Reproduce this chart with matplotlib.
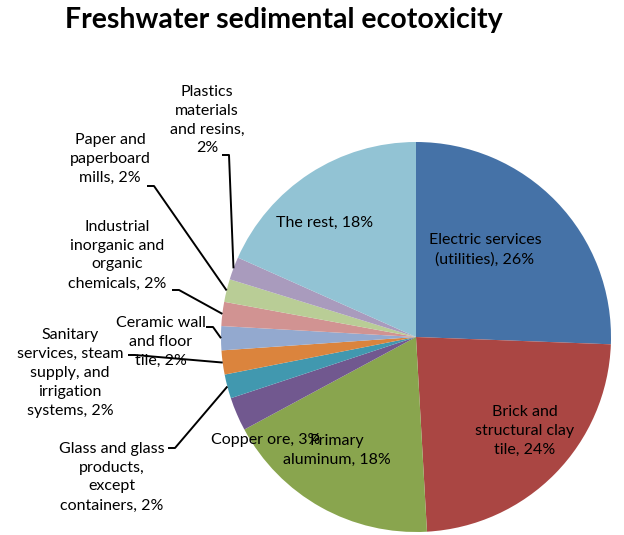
import numpy as np
import matplotlib
matplotlib.use("Agg")
import matplotlib.pyplot as plt

plt.rcParams['font.family'] = ['Lato', 'DejaVu Sans']

# slice data, clockwise from 12 o'clock
names = ["Electric services\n(utilities)", "Brick and\nstructural clay\ntile",
         "Primary\naluminum", "Copper ore",
         "Glass and glass\nproducts,\nexcept\ncontainers",
         "Sanitary\nservices, steam\nsupply, and\nirrigation\nsystems",
         "Ceramic wall\nand floor\ntile",
         "Industrial\ninorganic and\norganic\nchemicals",
         "Paper and\npaperboard\nmills",
         "Plastics\nmaterials\nand resins,",
         "The rest"]
shares = [25.7, 23.6, 18.1, 2.8, 2.0, 2.0, 2.0, 2.0, 1.9, 1.9, 18.4]
colors = ["#4572A7", "#AA4643", "#89A54E", "#71588F", "#4198AF", "#DB843D",
          "#93A9CF", "#D19392", "#B9CD96", "#A99BBD", "#92C3D4"]

W, H = 624, 535
fig = plt.figure(figsize=(W / 100, H / 100), dpi=100)
ax = fig.add_axes([0, 0, 1, 1])

cx, cy, R = 416, H - 337, 195
wedges, _ = ax.pie(shares, colors=colors, startangle=90, counterclock=False,
                   center=(cx, cy), radius=R, frame=True,
                   wedgeprops=dict(linewidth=0))
ax.set_xlim(0, W)
ax.set_ylim(0, H)
ax.set_aspect('equal')
ax.axis('off')


def label(i):
    pct = int(round(shares[i]))
    if names[i].endswith(","):
        return names[i] + "\n" + f"{pct}%"
    return names[i] + f", {pct}%"


fs = 11.5
ls = 1.45
# inside labels (pixel positions, y from top)
inside = {0: (485, 250), 1: (525, 431), 2: (337, 450), 3: (266, 440), 10: (325, 223)}
for i, (x, y) in inside.items():
    ax.text(x, H - y, label(i), ha='center', va='center', fontsize=fs,
            linespacing=ls, color='black')

# outside labels with leader lines: (text x, text y, elbow start x, elbow y)
outside = {
    4: (112, 477, 168, 448),
    5: (70, 373, 128, 355),
    6: (161, 342, 206, 327),
    7: (117, 255, 172, 290),
    8: (110, 159, 147, 186),
    9: (207, 120, 222, 155),
}
for i, (tx, ty, ex, ey) in outside.items():
    ax.text(tx, H - ty, label(i), ha='center', va='center', fontsize=fs,
            linespacing=ls, color='black')
    w = wedges[i]
    mid = np.deg2rad((w.theta1 + w.theta2) / 2)
    px = cx + R * np.cos(mid)
    py = cy + R * np.sin(mid)
    ax.plot([ex, ex + 7, px], [H - ey, H - ey, py], color='black', lw=1.4,
            solid_capstyle='butt', clip_on=False)

fig.text(284 / W, 1 - 20 / H, "Freshwater sedimental ecotoxicity", ha='center',
         va='center', fontsize=20.5, fontweight='bold')

fig.savefig("out.png", dpi=100)
